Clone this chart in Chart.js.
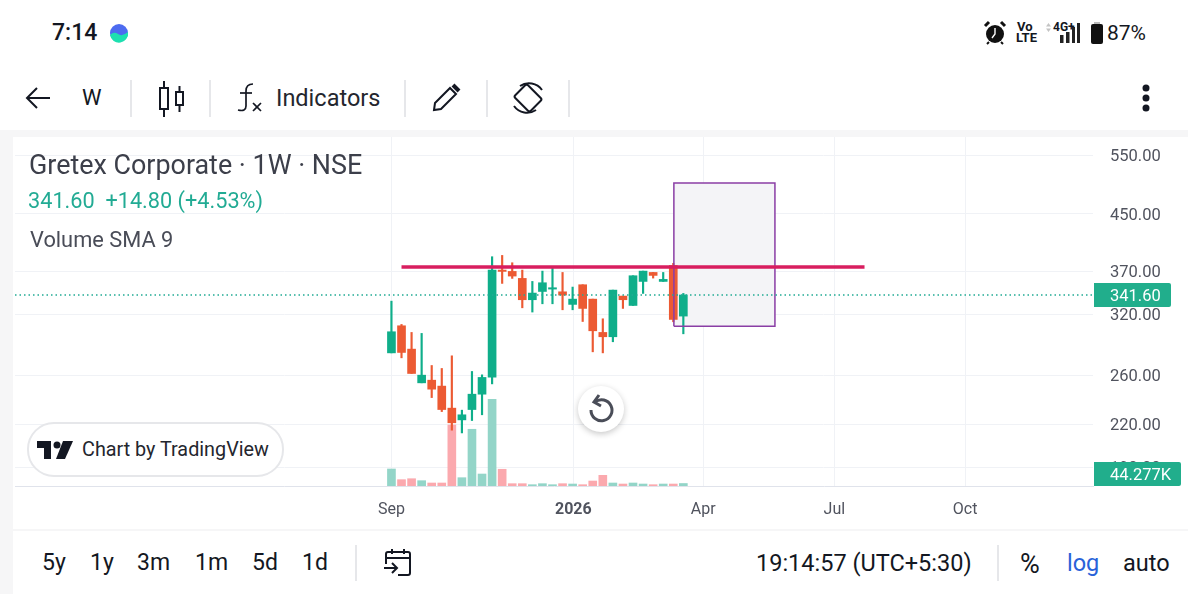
<!DOCTYPE html>
<html>
<head>
<meta charset="utf-8">
<title>Gretex Corporate</title>
<script src="https://cdn.jsdelivr.net/npm/chart.js@4"></script>
<style>
  html, body { margin: 0; padding: 0; background: #fff; overflow: hidden; }
  #page { position: relative; width: 1200px; height: 594px; overflow: hidden; font-family: Roboto, sans-serif; }
  .t { position: absolute; white-space: nowrap; line-height: 30px; color: #131722; }
  .sep { position: absolute; width: 2px; background: #e6e7ea; }
  .band { position: absolute; background: #f6f6f7; }
  svg { position: absolute; overflow: visible; }
  canvas { position: absolute; left: 15px; top: 137px; }
</style>
</head>
<body>
<div id="page">
  <!-- barra de estado -->
  <span class="t" style="left:52px;top:18px;font-size:23px;font-weight:500;">7:14</span>
  <svg style="left:110px;top:24px" width="18" height="18" viewBox="0 0 18 18">
    <circle cx="9" cy="9" r="9" fill="#4d6bf0"/>
    <path d="M0 11 Q4 7 8 10 T18 8 A9 9 0 0 1 0 11Z" fill="#1de0b0"/>
  </svg>
  <svg style="left:984px;top:21px" width="22" height="24" viewBox="0 0 22 24">
    <circle cx="11" cy="13" r="9" fill="#111"/>
    <path d="M1 5 L5 1 M21 5 L17 1" stroke="#111" stroke-width="3"/>
    <path d="M11 7 V13 L8 17" stroke="#fff" stroke-width="1.4" fill="none"/>
    <path d="M5 21 L3 23 M17 21 L19 23" stroke="#111" stroke-width="2"/>
  </svg>
  <span class="t" style="left:1017px;top:21px;font-size:13px;font-weight:700;line-height:12px;">Vo</span>
  <span class="t" style="left:1016px;top:32px;font-size:13px;font-weight:700;line-height:12px;">LTE</span>
  <svg style="left:1046px;top:23px" width="5" height="9" viewBox="0 0 5 9" fill="#c4c4c4">
    <path d="M2.5 0 L5 3.5 H0 Z M2.5 9 L5 5.5 H0 Z"/>
  </svg>
  <span class="t" style="left:1053px;top:21px;font-size:12px;font-weight:700;line-height:13px;">4G+</span>
  <svg style="left:1059px;top:22px" width="22" height="22" viewBox="0 0 22 22">
    <rect x="1" y="13" width="3.5" height="8" fill="#222"/>
    <rect x="7" y="10" width="3.5" height="11" fill="#222"/>
    <rect x="13" y="5" width="3" height="16" fill="#222"/>
    <rect x="18" y="1" width="3" height="20" fill="#222"/>
  </svg>
  <svg style="left:1090px;top:22px" width="14" height="22" viewBox="0 0 14 22">
    <rect x="4" y="0" width="6" height="3" fill="#bbb"/>
    <rect x="1" y="2" width="12" height="20" rx="2" fill="#111"/>
  </svg>
  <span class="t" style="left:1107px;top:18px;font-size:21px;">87%</span>

  <!-- barra de herramientas -->
  <svg style="left:25px;top:86px" width="26" height="24" viewBox="0 0 26 24" fill="none" stroke="#131722" stroke-width="2">
    <path d="M25 12 H2 M12 2 L2 12 L12 22"/>
  </svg>
  <span class="t" style="left:82px;top:83px;font-size:22px;">W</span>
  <div class="sep" style="left:130px;top:80px;height:37px"></div>
  <svg style="left:158px;top:81px" width="28" height="36" viewBox="0 0 28 36" fill="none" stroke="#131722" stroke-width="2">
    <rect x="2" y="7" width="8" height="21"/><path d="M6 0 V7 M6 28 V36"/>
    <rect x="18" y="11" width="7" height="13"/><path d="M21.5 5 V11 M21.5 24 V31"/>
  </svg>
  <div class="sep" style="left:209px;top:80px;height:37px"></div>
  <svg style="left:236px;top:83px" width="28" height="30" viewBox="0 0 28 30" fill="none" stroke="#131722" stroke-width="1.7">
    <path d="M17 1 Q10 1 10 8 V23 Q10 29 2 27"/><path d="M4 10 H16"/><path d="M17 20 L25 28 M25 20 L17 28"/>
  </svg>
  <span class="t" style="left:276px;top:83px;font-size:23.5px;color:#24262e;">Indicators</span>
  <div class="sep" style="left:404px;top:80px;height:37px"></div>
  <svg style="left:432px;top:84px" width="28" height="28" viewBox="0 0 28 28" fill="none" stroke="#131722" stroke-width="2">
    <path d="M2 26 L3 19 L18 4 L24 10 L9 25 Z"/><path d="M21 1 L27 7" stroke-width="4"/>
  </svg>
  <div class="sep" style="left:486px;top:80px;height:37px"></div>
  <svg style="left:511px;top:81px" width="34" height="34" viewBox="0 0 34 34" fill="none" stroke="#131722" stroke-width="2">
    <rect x="8" y="6" width="18" height="22" rx="2" transform="rotate(-45 17 17)"/>
    <path d="M9 5 A16 16 0 0 1 31 9 M25 29 A16 16 0 0 1 3 25"/>
  </svg>
  <div class="sep" style="left:568px;top:80px;height:37px"></div>
  <svg style="left:1140px;top:82px" width="12" height="32" viewBox="0 0 12 32" fill="#131722">
    <circle cx="6" cy="6" r="3.5"/><circle cx="6" cy="16" r="3.5"/><circle cx="6" cy="26" r="3.5"/>
  </svg>

  <!-- franjas grises alrededor del panel -->
  <div class="band" style="left:0;top:130px;width:1188px;height:7px"></div>
  <div class="band" style="left:0;top:130px;width:13px;height:464px"></div>
  <div class="band" style="left:13px;top:529px;width:1175px;height:2px"></div>

  <canvas id="grafica" width="1173" height="393" style="width:1173px;height:393px"></canvas>

  <!-- leyenda -->
  <span class="t" style="left:29px;top:150px;font-size:26.9px;color:#3c3f4a;">Gretex Corporate · 1W · NSE</span>
  <span class="t" style="left:28px;top:186px;font-size:21.7px;color:#22ab94;">341.60&nbsp; +14.80 (+4.53%)</span>
  <span class="t" style="left:30px;top:225px;font-size:21.8px;color:#4a4d58;">Volume SMA 9</span>

  <!-- marca y boton -->
  <div style="position:absolute;left:27px;top:422px;width:257px;height:55px;border-radius:27px;background:#fff;border:2px solid #e6e7ea;box-sizing:border-box;"></div>
  <svg style="left:37px;top:441px" width="36" height="18" viewBox="0 0 36 18" fill="#131722">
    <path d="M0 0 H14 V18 H7 V7 H0 Z"/><circle cx="20" cy="4" r="3.5"/><path d="M26 0 H36 L28 18 H19 Z"/>
  </svg>
  <span class="t" style="left:82px;top:435px;font-size:19.8px;color:#24262e;">Chart by TradingView</span>
  <div style="position:absolute;left:578px;top:386px;width:46px;height:46px;border-radius:23px;background:#fff;box-shadow:0 2px 6px rgba(0,0,0,.22);"></div>
  <svg style="left:588px;top:394px" width="26" height="30" viewBox="0 0 26 30" fill="none" stroke="#4a4d58" stroke-width="3">
    <path d="M7 8 A10.5 10.5 0 1 1 3 16"/><path d="M11 1 L6 8 L13 12"/>
  </svg>

  <!-- barra inferior -->
  <span class="t" style="left:42px;top:548px;font-size:23px;">5y</span>
  <span class="t" style="left:90px;top:548px;font-size:23px;">1y</span>
  <span class="t" style="left:137px;top:548px;font-size:23px;">3m</span>
  <span class="t" style="left:195px;top:548px;font-size:23px;">1m</span>
  <span class="t" style="left:252px;top:548px;font-size:23px;">5d</span>
  <span class="t" style="left:302px;top:548px;font-size:23px;">1d</span>
  <div class="sep" style="left:355px;top:545px;height:36px"></div>
  <svg style="left:384px;top:549px" width="28" height="28" viewBox="0 0 28 28" fill="none" stroke="#131722" stroke-width="2">
    <path d="M2 15 V5 Q2 3 4 3 H24 Q26 3 26 5 V24 Q26 26 24 26 H14 M2 9 H26 M8 0 V5 M20 0 V5"/>
    <path d="M0 19 H12 M8 14 L13 19 L8 24"/>
  </svg>
  <span class="t" style="left:756px;top:548px;font-size:23.5px;">19:14:57 (UTC+5:30)</span>
  <div class="sep" style="left:997px;top:545px;height:36px"></div>
  <span class="t" style="left:1020px;top:549px;font-size:27px;">%</span>
  <span class="t" style="left:1067px;top:548px;font-size:23.5px;color:#2962d9;">log</span>
  <span class="t" style="left:1123px;top:548px;font-size:23.5px;">auto</span>
</div>

<script>
// velas semanales
const semanas = [0, 1, 2, 3, 4, 5, 6, 7, 8, 9, 10, 11, 12, 13, 14, 15, 16, 17, 18, 19, 20, 21, 22, 23, 24, 25, 26, 27, 28, 29];
const aperturas = [280.5, 307.6, 284.1, 253.3, 255.6, 250.5, 232.4, 223.3, 231.3, 243.7, 258.2, 371.8, 370.1, 361.4, 336.1, 345.7, 348.5, 345.3, 330.8, 353.7, 336.8, 300.7, 296.3, 340.3, 329.6, 357.7, 368.8, 357.7, 377.7, 317.9];
const maximos = [334.5, 309.0, 300.7, 299.7, 268.7, 266.0, 277.7, 230.8, 263.3, 260.3, 389.1, 390.8, 381.2, 371.8, 357.7, 370.5, 373.9, 368.8, 350.9, 353.7, 336.8, 315.0, 347.3, 340.3, 364.7, 370.5, 368.8, 368.8, 380.4, 343.4];
const minimos = [280.5, 275.8, 261.5, 253.3, 240.9, 229.7, 215.6, 213.6, 222.8, 227.2, 252.4, 355.3, 361.4, 327.0, 322.3, 331.5, 331.5, 324.8, 324.8, 312.1, 281.5, 280.5, 291.3, 326.3, 329.6, 343.4, 361.8, 357.7, 311.8, 299.3];
const cierres = [301.4, 280.9, 261.5, 260.0, 247.9, 231.3, 221.1, 227.2, 243.7, 258.0, 371.8, 370.1, 364.3, 336.1, 343.8, 356.1, 350.1, 341.5, 336.8, 326.3, 302.4, 296.3, 347.3, 336.1, 364.7, 370.5, 365.1, 360.2, 314.3, 341.6];
const volumenes = [301, 112, 129, 94, 53, 53, 1080, 147, 1004, 212, 1535, 296, 41, 41, 23, 41, 23, 41, 35, 23, 88, 189, 53, 35, 53, 35, 23, 35, 35, 44.277];

// ejes
const precioTicks = [190, 220, 260, 320, 370, 450, 550];
const semanaTicks = [0, 18.07, 30.98, 44, 57];
const semanaLabels = ['Sep', '2026', 'Apr', 'Jul', 'Oct'];

// dibujos del usuario
const resistenciaPrecio = 375.6;
const resistenciaSemanas = [1, 47];
const cajaSemanas = [28.06, 38.1];
const cajaPrecios = [307, 500];

const ultimoPrecio = 341.6;
const ultimoVolumen = 44.277;

const VERDE = '#0fae8a';
const ROJO = '#ec5a33';
const VERDE_VOL = '#93d5c8';
const ROJO_VOL = '#fba9ae';

const sube = semanas.map((_, i) => cierres[i] >= aperturas[i]);

// etiquetas de precio sobre el eje derecho
const etiquetasPlugin = {
    id: 'etiquetas',
    beforeDraw(chart) {
        // Roboto queda un poco alta con textBaseline middle
        chart.scales.y.getLabelItems().forEach(item => { item.textOffset += 1.5; });
        chart.scales.x.getLabelItems().forEach(item => { item.textOffset += 1; });
    },
    afterDraw(chart) {
        const { ctx, scales, chartArea } = chart;
        const etiqueta = (yPix, ancho, texto) => {
            const alto = 24;
            const y = Math.min(yPix, chartArea.bottom - alto / 2);
            ctx.fillStyle = '#21ae8c';
            ctx.beginPath();
            ctx.roundRect(chartArea.right + 1, y - alto / 2, ancho, alto, [0, 2, 2, 0]);
            ctx.fill();
            ctx.fillStyle = '#fff';
            ctx.font = '16.5px Roboto';
            ctx.textAlign = 'left';
            ctx.textBaseline = 'middle';
            ctx.fillText(texto, chartArea.right + 17, y + 1.5);
        };
        etiqueta(scales.y.getPixelForValue(ultimoPrecio), 77, ultimoPrecio.toFixed(2));
        etiqueta(scales.volumen.getPixelForValue(ultimoVolumen), 87, ultimoVolumen.toFixed(3) + 'K');
    }
};

Chart.defaults.font.family = 'Roboto';

new Chart(document.getElementById('grafica'), {
    type: 'bar',
    plugins: [etiquetasPlugin],
    data: {
        datasets: [
            {
                label: 'Volumen',
                yAxisID: 'volumen',
                data: semanas.map((s, i) => ({ x: s, y: volumenes[i] })),
                backgroundColor: sube.map(u => (u ? VERDE_VOL : ROJO_VOL)),
                barThickness: 8,
                order: 6
            },
            {
                type: 'line',
                label: 'Caja arriba',
                data: cajaSemanas.map(s => ({ x: s, y: cajaPrecios[1] })),
                borderWidth: 0,
                pointRadius: 0,
                backgroundColor: '#f4f4f7',
                fill: '+1',
                order: 5
            },
            {
                type: 'line',
                label: 'Caja abajo',
                data: cajaSemanas.map(s => ({ x: s, y: cajaPrecios[0] })),
                borderWidth: 0,
                pointRadius: 0,
                order: 5
            },
            {
                label: 'Mechas',
                data: semanas.map((s, i) => ({ x: s, y: [minimos[i], maximos[i]] })),
                backgroundColor: sube.map(u => (u ? VERDE : ROJO)),
                barThickness: 1.5,
                order: 4
            },
            {
                label: 'Cuerpos',
                data: semanas.map((s, i) => ({ x: s, y: [aperturas[i], cierres[i]] })),
                backgroundColor: sube.map(u => (u ? VERDE : ROJO)),
                barThickness: 8,
                order: 3
            },
            {
                type: 'line',
                label: 'Caja',
                data: [
                    { x: cajaSemanas[0], y: cajaPrecios[0] },
                    { x: cajaSemanas[0], y: cajaPrecios[1] },
                    { x: cajaSemanas[1], y: cajaPrecios[1] },
                    { x: cajaSemanas[1], y: cajaPrecios[0] },
                    { x: cajaSemanas[0], y: cajaPrecios[0] }
                ],
                borderColor: '#8a3ea5',
                borderWidth: 1.5,
                pointRadius: 0,
                order: 2
            },
            {
                type: 'line',
                label: 'Último precio',
                data: [{ x: -37.4, y: ultimoPrecio }, { x: 69.7, y: ultimoPrecio }],
                borderColor: '#22ab94',
                borderWidth: 1.5,
                borderDash: [1.5, 3],
                pointRadius: 0,
                order: 1
            },
            {
                type: 'line',
                label: 'Resistencia',
                data: resistenciaSemanas.map(s => ({ x: s, y: resistenciaPrecio })),
                borderColor: '#d81e5f',
                borderWidth: 3.5,
                pointRadius: 0,
                order: 0
            }
        ]
    },
    options: {
        responsive: false,
        animation: false,
        events: [],
        layout: { autoPadding: false, padding: 0 },
        plugins: { legend: { display: false }, tooltip: { enabled: false } },
        datasets: { bar: { grouped: false, borderWidth: 0 } },
        scales: {
            x: {
                type: 'linear',
                min: -37.4,
                max: 69.7,
                offset: false,
                grid: { offset: false, color: '#f0f2f6', drawTicks: false },
                border: { color: '#e0e3eb' },
                afterBuildTicks: scale => { scale.ticks = semanaTicks.map(v => ({ value: v })); },
                afterFit: scale => { scale.height = 44; },
                ticks: {
                    autoSkip: false,
                    maxRotation: 0,
                    padding: 13,
                    color: '#50535e',
                    font: ctx => ({ size: 16, weight: semanaLabels[ctx.index] === '2026' ? 'bold' : 'normal' }),
                    callback: (v, i) => semanaLabels[i]
                }
            },
            y: {
                type: 'logarithmic',
                position: 'right',
                min: 178.3,
                max: 584.8,
                grid: { color: '#f0f2f6', drawTicks: false },
                border: { display: false },
                afterBuildTicks: scale => { scale.ticks = precioTicks.map(v => ({ value: v })); },
                // sin esto el padding de las etiquetas baja el área de la gráfica
                afterFit: scale => {
                    scale.width = 95;
                    scale.paddingTop = 0;
                    scale.paddingBottom = 0;
                },
                ticks: {
                    autoSkip: false,
                    padding: 17,
                    color: '#50535e',
                    font: { size: 16.5 },
                    callback: v => v.toFixed(2)
                }
            },
            volumen: {
                type: 'linear',
                display: false,
                min: 0,
                max: 6177
            }
        }
    }
});
</script>
</body>
</html>
